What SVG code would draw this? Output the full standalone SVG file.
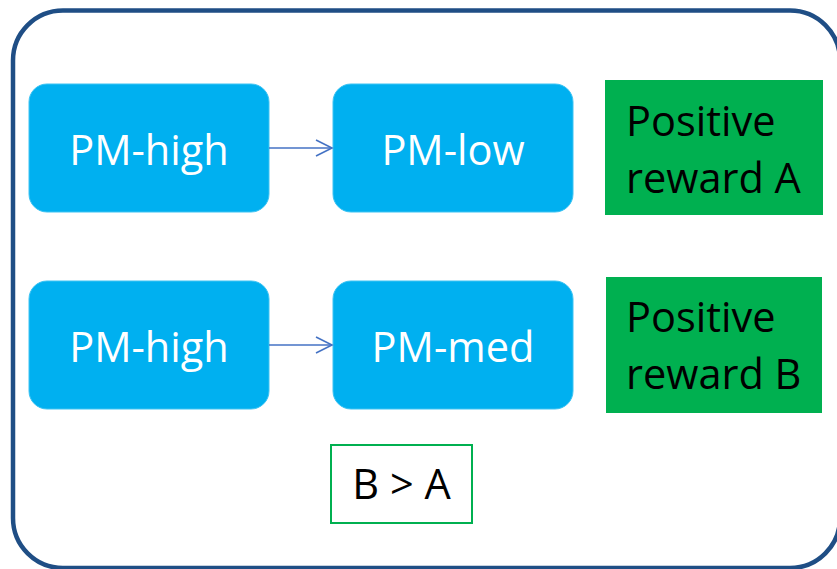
<svg xmlns="http://www.w3.org/2000/svg" width="837" height="569" viewBox="0 0 837 569">
  <defs>
    <marker id="chev" markerWidth="20" markerHeight="20" refX="17" refY="9" orient="auto" markerUnits="userSpaceOnUse">
      <path d="M1,1 L17,9 L1,17" fill="none" stroke="#4472C4" stroke-width="1.6"/>
    </marker>
    <style>
      .frame { fill: #FFFFFF; stroke: #1F4E85; stroke-width: 4.5; }
      .pm rect { fill: #00B0F0; stroke: #3CC3F3; stroke-width: 1; }
      .pm text { fill: #FFFFFF; font-family: "Open Sans", "Liberation Sans", sans-serif; font-size: 41.5px; text-anchor: middle; }
      .reward rect { fill: #00B050; }
      .reward text { fill: #000000; font-family: "Open Sans", "Liberation Sans", sans-serif; font-size: 41.5px; }
      .cmp rect { fill: #FFFFFF; stroke: #00B050; stroke-width: 2; }
      .cmp text { fill: #000000; font-family: "Open Sans", "Liberation Sans", sans-serif; font-size: 41.5px; text-anchor: middle; }
      .edge { stroke: #4472C4; stroke-width: 1.6; fill: none; marker-end: url(#chev); }
    </style>
  </defs>

  <!-- outer rounded frame -->
  <rect class="frame" x="13" y="10.5" width="827" height="557.5" rx="50" ry="50"/>

  <!-- top row -->
  <g id="pm-high-1" class="pm">
    <rect x="29" y="84" width="240" height="128" rx="18" ry="18"/>
    <text x="149" y="165">PM-high</text>
  </g>
  <g id="pm-low" class="pm">
    <rect x="333" y="84" width="240" height="128" rx="18" ry="18"/>
    <text x="453" y="165">PM-low</text>
  </g>
  <g id="reward-a" class="reward">
    <rect x="605" y="80" width="218" height="135"/>
    <text x="626" y="136">Positive</text>
    <text x="626" y="193">reward A</text>
  </g>

  <!-- bottom row -->
  <g id="pm-high-2" class="pm">
    <rect x="29" y="281" width="240" height="128" rx="18" ry="18"/>
    <text x="149" y="362">PM-high</text>
  </g>
  <g id="pm-med" class="pm">
    <rect x="333" y="281" width="240" height="128" rx="18" ry="18"/>
    <text x="453" y="362">PM-med</text>
  </g>
  <g id="reward-b" class="reward">
    <rect x="606" y="277" width="216" height="136"/>
    <text x="626" y="332">Positive</text>
    <text x="626" y="389">reward B</text>
  </g>

  <!-- comparison note -->
  <g id="compare" class="cmp">
    <rect x="331" y="445" width="141" height="78"/>
    <text x="401.5" y="499">B &gt; A</text>
  </g>

  <!-- connectors -->
  <g id="connectors">
    <line class="edge" x1="269" y1="148" x2="332" y2="148"/>
    <line class="edge" x1="269" y1="345" x2="332" y2="345"/>
  </g>
</svg>
